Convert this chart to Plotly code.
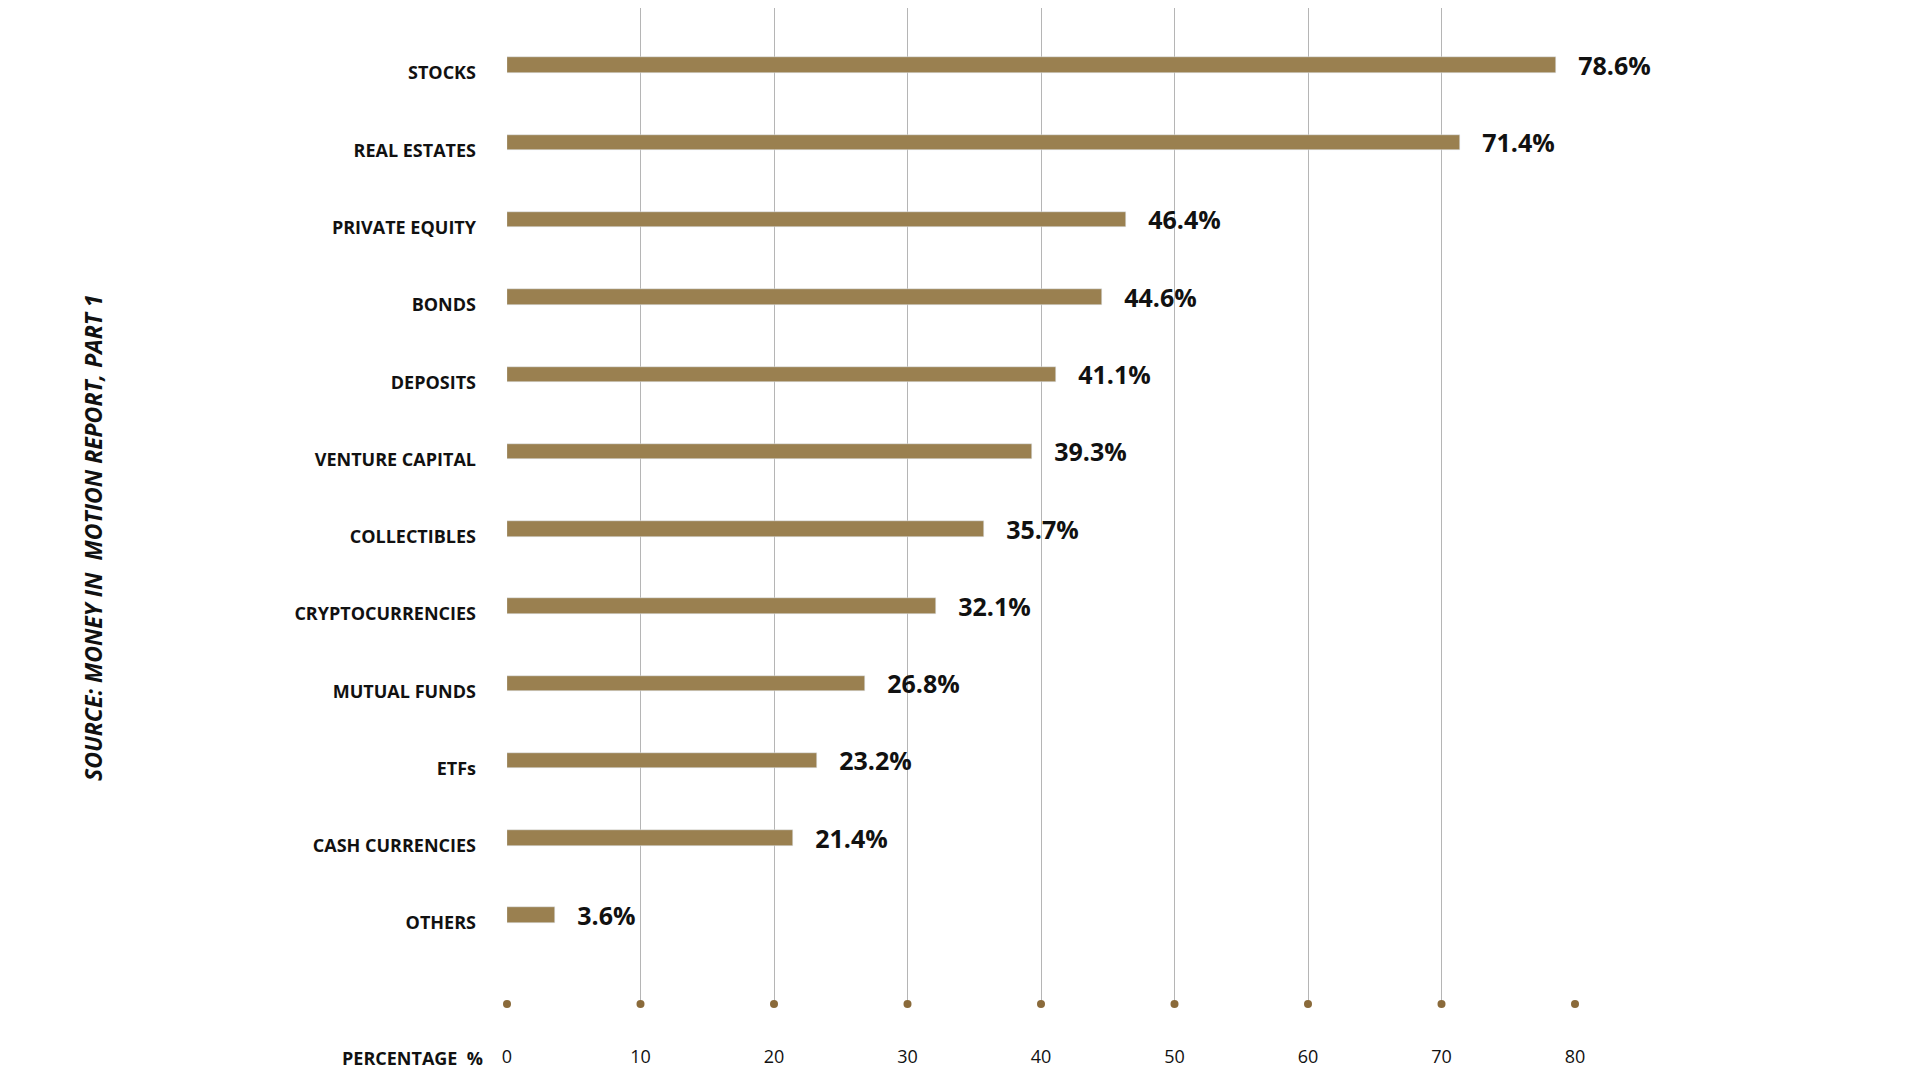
import plotly.graph_objects as go

categories = ["STOCKS","REAL ESTATES","PRIVATE EQUITY","BONDS","DEPOSITS","VENTURE CAPITAL",
              "COLLECTIBLES","CRYPTOCURRENCIES","MUTUAL FUNDS","ETFs","CASH CURRENCIES","OTHERS"]
values = [78.6,71.4,46.4,44.6,41.1,39.3,35.7,32.1,26.8,23.2,21.4,3.6]
ticks = [0,10,20,30,40,50,60,70,80]

pos = list(range(len(categories)))
FONT = "Open Sans"
fig = go.Figure()
fig.add_trace(go.Bar(x=values, y=pos, orientation="h", width=0.2, marker_color="#9a8050",
                     text=[f"{v}%" for v in values], textposition="outside",
                     texttemplate="\u00a0\u00a0\u00a0<b>%{text}</b>", constraintext="none",
                     textfont=dict(family=FONT, size=25, color="#111"), cliponaxis=False))
fig.add_trace(go.Scatter(x=ticks, y=[12.15]*len(ticks), mode="markers",
                         marker=dict(color="#8a6a3a", size=8), cliponaxis=False))
fig.update_layout(
    width=1920, height=1080, showlegend=False, plot_bgcolor="white", paper_bgcolor="white",
    margin=dict(l=499, r=353, t=0, b=84), bargap=0,
    xaxis=dict(range=[0,80], tickvals=ticks, showgrid=True, gridcolor="#b5b5b5", gridwidth=1,
               zeroline=False, tickfont=dict(family=FONT, size=18, color="#111"),
               ticklabelstandoff=40),
    yaxis=dict(range=[12.15,-0.74], tickvals=pos, ticktext=[f"<b>{c}</b>" for c in categories],
               showgrid=False, zeroline=False, ticklabelshift=-8,
               tickfont=dict(family=FONT, size=18, color="#111"), ticklabelstandoff=30),
    annotations=[
        dict(text="<b>PERCENTAGE  %</b>", x=0, xref="x", y=0, yref="paper", xshift=-22,
             xanchor="right", yanchor="top", yshift=-40, showarrow=False,
             font=dict(family=FONT, size=18, color="#111")),
        dict(text="<b><i>SOURCE: MONEY IN  MOTION REPORT, PART 1</i></b>",
             x=(85-499)/(1920-499-353), xref="paper", xanchor="center",
             y=1 - 530/(1080-84), yref="paper", showarrow=False, textangle=-90,
             font=dict(family=FONT, size=23, color="#111")),
    ],
)
fig.write_html("out.html")
